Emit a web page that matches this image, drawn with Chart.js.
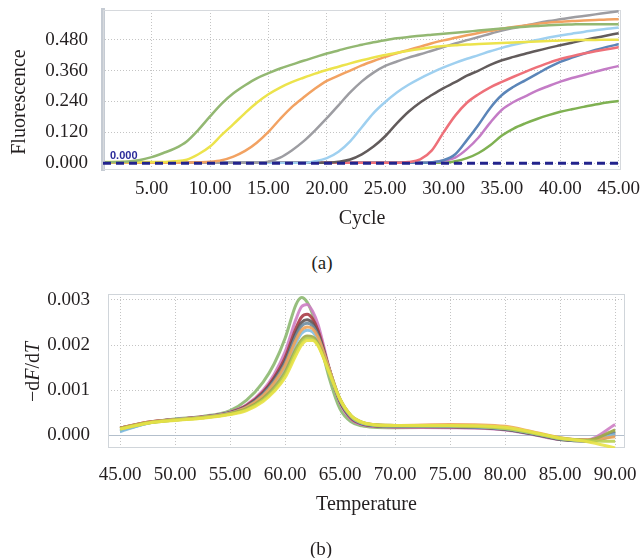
<!DOCTYPE html>
<html>
<head>
<meta charset="utf-8">
<script src="https://cdn.jsdelivr.net/npm/chart.js@4.4.1/dist/chart.umd.min.js"></script>
<style>
  html, body { margin: 0; padding: 0; background: #fff; }
  #wrap { position: relative; width: 644px; height: 558px; overflow: hidden;
          font-family: "Liberation Serif", "DejaVu Serif", serif; color: #231f20; }
  canvas { position: absolute; left: 0; }
  #chartA { top: 0; }
  #chartB { top: 280px; }
  .lbl { position: absolute; white-space: nowrap; font-size: 20px; line-height: 1; transform: translate(-50%, -50%); }
  .rot { transform: translate(-50%, -50%) rotate(-90deg); }
</style>
</head>
<body>
<div id="wrap">
  <canvas id="chartA" width="644" height="240"></canvas>
  <canvas id="chartB" width="644" height="278"></canvas>
  <div class="lbl rot" style="left:18px; top:102px;">Fluorescence</div>
  <div class="lbl" style="left:322px; top:262px; font-size:19px;">(a)</div>
  <div class="lbl rot" style="left:32px; top:372px;">−d<i>F</i>/d<i>T</i></div>
  <div class="lbl" style="left:321px; top:548px; font-size:19px;">(b)</div>
</div>
<script>
const SERIF = "'Liberation Serif', 'DejaVu Serif', serif";
const INK = "#231f20";

// ===============================
// (a) amplification curves, one value per cycle 1..45
// ===============================
const cycles = [1, 2, 3, 4, 5, 6, 7, 8, 9, 10, 11, 12, 13, 14, 15, 16, 17, 18, 19, 20, 21, 22, 23,
                24, 25, 26, 27, 28, 29, 30, 31, 32, 33, 34, 35, 36, 37, 38, 39, 40, 41, 42, 43, 44, 45];

const ampGreen1 = [0.004, 0.005, 0.007, 0.013, 0.024, 0.040, 0.058, 0.085, 0.130, 0.182, 0.232, 0.272, 0.303, 0.330, 0.350,
                   0.368, 0.383, 0.398, 0.412, 0.426, 0.438, 0.450, 0.460, 0.470, 0.478, 0.485, 0.490, 0.495, 0.499, 0.503,
                   0.507, 0.511, 0.515, 0.519, 0.523, 0.527, 0.530, 0.533, 0.536, 0.538, 0.539, 0.540, 0.540, 0.540, 0.540];
const ampYellow = [0.005, 0.005, 0.005, 0.005, 0.005, 0.005, 0.008, 0.014, 0.035, 0.065, 0.110, 0.152, 0.195, 0.235, 0.268,
                   0.294, 0.315, 0.332, 0.348, 0.362, 0.375, 0.388, 0.400, 0.411, 0.420, 0.429, 0.437, 0.444, 0.450, 0.455,
                   0.458, 0.461, 0.463, 0.465, 0.467, 0.469, 0.471, 0.473, 0.475, 0.477, 0.478, 0.479, 0.479, 0.480, 0.480];
const ampOrange = [0.002, 0.002, 0.002, 0.002, 0.002, 0.002, 0.002, 0.003, 0.004, 0.006, 0.012, 0.026, 0.048, 0.080, 0.122,
                   0.172, 0.218, 0.255, 0.290, 0.320, 0.340, 0.360, 0.380, 0.397, 0.413, 0.427, 0.440, 0.453, 0.466, 0.477,
                   0.487, 0.497, 0.506, 0.514, 0.522, 0.529, 0.535, 0.541, 0.546, 0.549, 0.552, 0.554, 0.556, 0.558, 0.559];
const ampGray   = [0.002, 0.002, 0.002, 0.002, 0.002, 0.002, 0.002, 0.002, 0.002, 0.002, 0.002, 0.002, 0.002, 0.002, 0.006,
                   0.022, 0.050, 0.085, 0.128, 0.175, 0.225, 0.275, 0.318, 0.352, 0.378, 0.395, 0.410, 0.423, 0.437, 0.451,
                   0.465, 0.478, 0.490, 0.503, 0.515, 0.525, 0.535, 0.544, 0.552, 0.559, 0.566, 0.572, 0.578, 0.584, 0.590];
const ampSky    = [0.002, 0.002, 0.002, 0.002, 0.002, 0.002, 0.002, 0.002, 0.002, 0.002, 0.002, 0.002, 0.002, 0.002, 0.002,
                   0.002, 0.002, 0.002, 0.008, 0.020, 0.045, 0.085, 0.140, 0.195, 0.238, 0.275, 0.305, 0.330, 0.352, 0.372,
                   0.390, 0.406, 0.420, 0.435, 0.448, 0.460, 0.470, 0.479, 0.488, 0.496, 0.503, 0.510, 0.516, 0.522, 0.527];
const ampDark   = [0.002, 0.002, 0.002, 0.002, 0.002, 0.002, 0.002, 0.002, 0.002, 0.002, 0.002, 0.002, 0.002, 0.002, 0.002,
                   0.002, 0.002, 0.002, 0.002, 0.002, 0.006, 0.015, 0.035, 0.065, 0.105, 0.155, 0.200, 0.236, 0.265, 0.292,
                   0.315, 0.340, 0.360, 0.382, 0.400, 0.413, 0.425, 0.437, 0.448, 0.458, 0.468, 0.478, 0.487, 0.496, 0.505];
const ampRed    = [0.002, 0.002, 0.002, 0.002, 0.002, 0.002, 0.002, 0.002, 0.002, 0.002, 0.002, 0.002, 0.002, 0.002, 0.002,
                   0.002, 0.002, 0.002, 0.002, 0.002, 0.002, 0.002, 0.002, 0.002, 0.002, 0.002, 0.005, 0.015, 0.050, 0.120,
                   0.185, 0.235, 0.268, 0.295, 0.316, 0.336, 0.355, 0.373, 0.390, 0.405, 0.416, 0.426, 0.435, 0.443, 0.450];
const ampSteel  = [0.002, 0.002, 0.002, 0.002, 0.002, 0.002, 0.002, 0.002, 0.002, 0.002, 0.002, 0.002, 0.002, 0.002, 0.002,
                   0.002, 0.002, 0.002, 0.002, 0.002, 0.002, 0.002, 0.002, 0.002, 0.002, 0.002, 0.002, 0.002, 0.004, 0.012,
                   0.035, 0.090, 0.150, 0.215, 0.265, 0.297, 0.322, 0.347, 0.372, 0.394, 0.410, 0.425, 0.440, 0.452, 0.462];
const ampPurple = [0.002, 0.002, 0.002, 0.002, 0.002, 0.002, 0.002, 0.002, 0.002, 0.002, 0.002, 0.002, 0.002, 0.002, 0.002,
                   0.002, 0.002, 0.002, 0.002, 0.002, 0.002, 0.002, 0.002, 0.002, 0.002, 0.002, 0.002, 0.002, 0.004, 0.010,
                   0.022, 0.055, 0.100, 0.158, 0.208, 0.238, 0.260, 0.282, 0.300, 0.317, 0.331, 0.343, 0.355, 0.367, 0.378];
const ampGreen2 = [0.002, 0.002, 0.002, 0.002, 0.002, 0.002, 0.002, 0.002, 0.002, 0.002, 0.002, 0.002, 0.002, 0.002, 0.002,
                   0.002, 0.002, 0.002, 0.002, 0.002, 0.002, 0.002, 0.002, 0.002, 0.002, 0.002, 0.002, 0.002, 0.002, 0.002,
                   0.008, 0.020, 0.040, 0.070, 0.108, 0.135, 0.155, 0.172, 0.187, 0.200, 0.210, 0.219, 0.228, 0.236, 0.242];

const threshold = 0.000;
const ampXTicks = [5, 10, 15, 20, 25, 30, 35, 40, 45];
const ampYTicks = [0, 0.12, 0.24, 0.36, 0.48];

// ===============================
// (b) melt curves
// ===============================
const temps = [45, 47.5, 50, 52.5, 55, 56.5, 58, 59, 60, 61, 61.5, 62, 62.5, 63, 64, 65, 66, 67, 68, 70, 75, 80, 82.5, 85, 87.5, 90];

const meltGreen   = [0.00012, 0.00028, 0.00036, 0.00042, 0.00055, 0.00078, 0.00118, 0.00158, 0.00215, 0.00290, 0.00305, 0.00295, 0.00268, 0.00225, 0.00128, 0.00058, 0.00030, 0.00021, 0.00018, 0.00017, 0.00018, 0.00013, 0.00003, -0.00009, -0.00012, 0.00010];
const meltMagenta = [0.00015, 0.00029, 0.00035, 0.00041, 0.00052, 0.00068, 0.00100, 0.00135, 0.00185, 0.00258, 0.00285, 0.00290, 0.00275, 0.00245, 0.00150, 0.00072, 0.00036, 0.00024, 0.00020, 0.00018, 0.00017, 0.00012, 0.00002, -0.00009, -0.00010, 0.00024];
const meltCrimson = [0.00016, 0.00029, 0.00035, 0.00041, 0.00051, 0.00066, 0.00096, 0.00128, 0.00172, 0.00238, 0.00262, 0.00268, 0.00258, 0.00232, 0.00148, 0.00074, 0.00038, 0.00025, 0.00021, 0.00019, 0.00019, 0.00014, 0.00004, -0.00008, -0.00012, 0.00004];
const meltDark    = [0.00016, 0.00028, 0.00035, 0.00040, 0.00050, 0.00064, 0.00093, 0.00124, 0.00165, 0.00228, 0.00250, 0.00256, 0.00248, 0.00225, 0.00148, 0.00076, 0.00040, 0.00026, 0.00022, 0.00020, 0.00019, 0.00013, 0.00003, -0.00009, -0.00013, 0.00000];
const meltSteel   = [0.00010, 0.00027, 0.00035, 0.00040, 0.00050, 0.00063, 0.00091, 0.00120, 0.00160, 0.00220, 0.00242, 0.00248, 0.00242, 0.00220, 0.00147, 0.00077, 0.00040, 0.00026, 0.00022, 0.00020, 0.00020, 0.00014, 0.00004, -0.00008, -0.00012, 0.00006];
const meltSky     = [0.00008, 0.00027, 0.00035, 0.00040, 0.00049, 0.00061, 0.00087, 0.00113, 0.00150, 0.00205, 0.00226, 0.00233, 0.00229, 0.00211, 0.00145, 0.00078, 0.00042, 0.00027, 0.00023, 0.00021, 0.00020, 0.00015, 0.00005, -0.00007, -0.00012, 0.00002];
const meltOrange  = [0.00016, 0.00029, 0.00035, 0.00040, 0.00049, 0.00062, 0.00088, 0.00116, 0.00155, 0.00212, 0.00233, 0.00240, 0.00236, 0.00217, 0.00148, 0.00080, 0.00043, 0.00028, 0.00024, 0.00022, 0.00024, 0.00020, 0.00008, -0.00005, -0.00010, -0.00003];
const meltOlive   = [0.00015, 0.00028, 0.00034, 0.00039, 0.00048, 0.00059, 0.00082, 0.00106, 0.00140, 0.00192, 0.00212, 0.00220, 0.00218, 0.00203, 0.00142, 0.00080, 0.00044, 0.00029, 0.00024, 0.00022, 0.00021, 0.00016, 0.00006, -0.00006, -0.00011, 0.00012];
const meltLime    = [0.00014, 0.00027, 0.00034, 0.00039, 0.00047, 0.00057, 0.00078, 0.00100, 0.00133, 0.00185, 0.00206, 0.00215, 0.00213, 0.00200, 0.00140, 0.00079, 0.00043, 0.00028, 0.00023, 0.00021, 0.00021, 0.00015, 0.00005, -0.00007, -0.00012, -0.00013];
const meltYellow  = [0.00014, 0.00027, 0.00033, 0.00038, 0.00046, 0.00055, 0.00075, 0.00097, 0.00128, 0.00178, 0.00200, 0.00210, 0.00210, 0.00198, 0.00140, 0.00080, 0.00044, 0.00029, 0.00024, 0.00022, 0.00022, 0.00018, 0.00007, -0.00006, -0.00014, -0.00028];

const meltXTicks = [45, 50, 55, 60, 65, 70, 75, 80, 85, 90];
const meltYTicks = [0, 0.001, 0.002, 0.003];

// ===============================
// helpers
// ===============================
function toPoints(xs, ys) {
  return xs.map((x, i) => ({ x: x, y: ys[i] }));
}

function fixedTicks(list) {
  return scale => { scale.ticks = list.map(v => ({ value: v })); };
}

// fixed axis box, no extra label padding pushing the plot area around
function fixSize(prop, size) {
  return scale => {
    scale[prop] = size;
    scale.paddingTop = 0;
    scale.paddingBottom = 0;
    scale.paddingLeft = 0;
    scale.paddingRight = 0;
  };
}

function line(xs, ys, color, width) {
  return {
    data: toPoints(xs, ys),
    borderColor: color,
    borderWidth: width,
    pointRadius: 0,
    cubicInterpolationMode: "monotone",
    fill: false
  };
}

const plotFrame = {
  id: "plotFrame",
  beforeDatasetsDraw(chart, args, opts) {
    const a = chart.chartArea;
    const c = chart.ctx;
    c.save();
    c.strokeStyle = opts.color;
    c.lineWidth = 1;
    c.strokeRect(a.left + 0.5, a.top + 0.5, a.right - a.left - 1, a.bottom - a.top - 1);
    c.restore();
  }
};

const thresholdLabel = {
  id: "thresholdLabel",
  afterDatasetsDraw(chart) {
    const c = chart.ctx;
    const y = chart.scales.y.getPixelForValue(threshold);
    c.save();
    c.font = "bold 11px 'Liberation Sans', Arial, sans-serif";
    c.fillStyle = "#2b2b9a";
    c.textBaseline = "alphabetic";
    c.fillText(threshold.toFixed(3), 110, y - 4);
    c.restore();
  }
};

const tickFont = { family: SERIF, size: 19 };
const titleFont = { family: SERIF, size: 20 };

// ===============================
// chart (a)
// ===============================
const ampDatasets = [
  {
    data: [{ x: 0.83, y: threshold }, { x: 45.2, y: threshold }],
    borderColor: "#22238c",
    borderWidth: 3,
    borderDash: [8, 5],
    pointRadius: 0
  },
  line(cycles, ampGreen1, "#93b872", 2.5),
  line(cycles, ampYellow, "#ece34c", 2.5),
  line(cycles, ampOrange, "#f2a262", 2.5),
  line(cycles, ampGray, "#9d9da2", 2.5),
  line(cycles, ampSky, "#9fd0f0", 2.5),
  line(cycles, ampDark, "#625b5b", 2.5),
  line(cycles, ampRed, "#ee7079", 2.5),
  line(cycles, ampSteel, "#5b85b8", 2.5),
  line(cycles, ampPurple, "#c47cc6", 2.5),
  line(cycles, ampGreen2, "#7fb152", 2.5)
];

new Chart(document.getElementById("chartA"), {
  type: "line",
  data: { datasets: ampDatasets },
  options: {
    responsive: false,
    animation: false,
    layout: { padding: { top: 10, right: 23, bottom: 0, left: 0 } },
    plugins: {
      legend: { display: false },
      tooltip: { enabled: false },
      plotFrame: { color: "#d6d9dd" }
    },
    scales: {
      x: {
        type: "linear",
        min: 0.83,
        max: 45.2,
        afterBuildTicks: fixedTicks(ampXTicks),
        afterFit: fixSize("height", 70),
        grid: { color: "#c4c4c4", drawTicks: false },
        border: { display: false, dash: [1, 2] },
        ticks: {
          padding: 8, autoSkip: false, maxRotation: 0,
          color: INK, font: tickFont,
          callback: v => Number(v).toFixed(2)
        },
        title: { display: true, text: "Cycle", color: INK, font: titleFont, padding: { top: 0, bottom: 9 } }
      },
      y: {
        type: "linear",
        min: -0.026,
        max: 0.595,
        afterBuildTicks: fixedTicks(ampYTicks),
        afterFit: fixSize("width", 103),
        grid: { color: "#c4c4c4", drawTicks: false },
        border: { display: true, color: "#c5cbd3", width: 4, dash: [1, 2] },
        ticks: { padding: 15, color: INK, font: tickFont, callback: v => Number(v).toFixed(3) }
      }
    }
  },
  plugins: [plotFrame, thresholdLabel]
});

// ===============================
// chart (b)
// ===============================
const meltDatasets = [
  line(temps, meltYellow, "rgba(232,226,70,0.9)", 3),
  line(temps, meltLime, "rgba(184,208,80,0.9)", 3),
  line(temps, meltOlive, "rgba(160,168,72,0.9)", 3),
  line(temps, meltOrange, "rgba(240,164,90,0.9)", 3),
  line(temps, meltSky, "rgba(130,190,225,0.9)", 3),
  line(temps, meltSteel, "rgba(110,140,160,0.9)", 3),
  line(temps, meltDark, "rgba(96,84,84,0.9)", 3),
  line(temps, meltCrimson, "rgba(170,60,70,0.9)", 3),
  line(temps, meltMagenta, "rgba(206,126,196,0.9)", 3),
  line(temps, meltGreen, "rgba(140,184,112,0.9)", 3)
];

const isZero = ctx => ctx.tick && ctx.tick.value === 0;

new Chart(document.getElementById("chartB"), {
  type: "line",
  data: { datasets: meltDatasets },
  options: {
    responsive: false,
    animation: false,
    layout: { padding: { top: 14, right: 19, bottom: 0, left: 0 } },
    plugins: {
      legend: { display: false },
      tooltip: { enabled: false },
      plotFrame: { color: "#d0d5da" }
    },
    scales: {
      x: {
        type: "linear",
        min: 43.9,
        max: 90.9,
        afterBuildTicks: fixedTicks(meltXTicks),
        afterFit: fixSize("height", 110),
        grid: { color: "#c4c4c4", drawTicks: false },
        border: { display: false, dash: [1, 2] },
        ticks: {
          padding: 16, autoSkip: false, maxRotation: 0,
          color: INK, font: tickFont,
          callback: v => Number(v).toFixed(2)
        },
        title: { display: true, text: "Temperature", color: INK, font: titleFont, padding: { top: 0, bottom: 41 } }
      },
      y: {
        type: "linear",
        min: -0.00028,
        max: 0.00313,
        afterBuildTicks: fixedTicks(meltYTicks),
        afterFit: fixSize("width", 108),
        grid: {
          color: ctx => isZero(ctx) ? "#b3bfcc" : "#c4c4c4",
          drawTicks: false
        },
        border: { display: false, dash: ctx => isZero(ctx) ? [] : [1, 2] },
        ticks: { padding: 18, color: INK, font: tickFont, callback: v => Number(v).toFixed(3) }
      }
    }
  },
  plugins: [plotFrame]
});
</script>
</body>
</html>
